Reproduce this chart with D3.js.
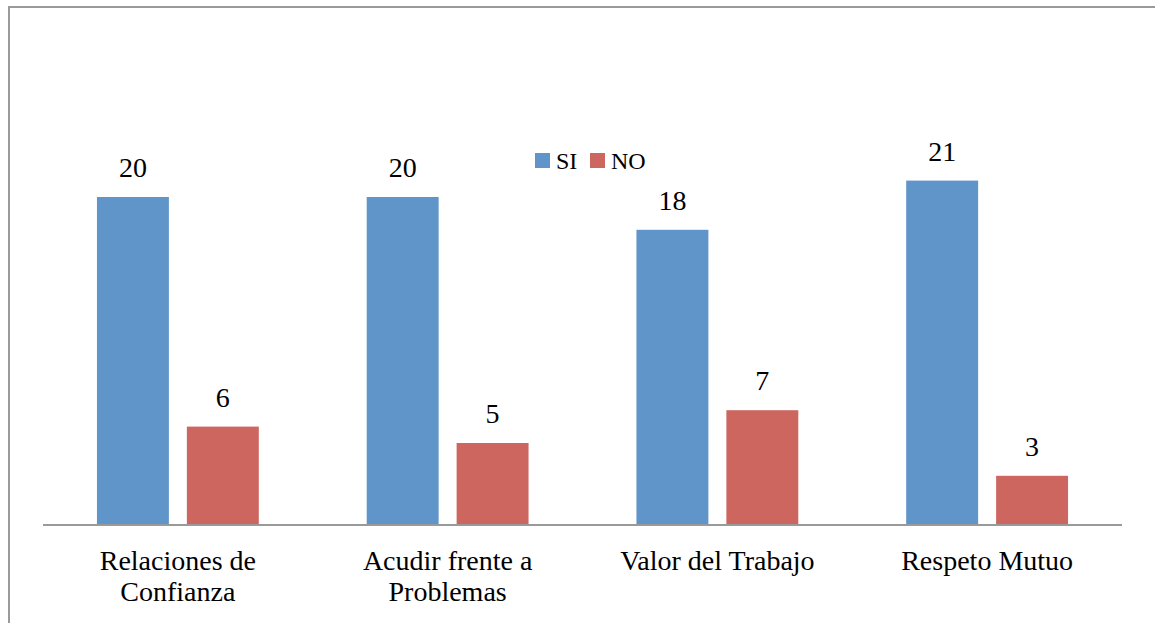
<!DOCTYPE html>
<html>
<head>
<meta charset="utf-8">
<script src="https://cdn.jsdelivr.net/npm/d3@7"></script>
<style>
  body { margin: 0; background: #fff; }
  svg text { font-family: "Liberation Serif", "DejaVu Serif", serif; fill: #000; }
</style>
</head>
<body>
<svg class="chart" width="1155" height="623"></svg>
<script>
let categories = [['Relaciones de', 'Confianza'], ['Acudir frente a', 'Problemas'], ['Valor del Trabajo'], ['Respeto Mutuo']];
let series = ['SI', 'NO'];
let siValues = [20, 20, 18, 21];
let noValues = [6, 5, 7, 3];
let colors = ['#5F95C9', '#CE6660'];

let margin = { top: 115, left: 43, right: 33, baseline: 525 };

let data = categories.map((c, i) => ({ name: c.join(' '), lines: c, values: [siValues[i], noValues[i]] }));

let svg = d3.select('.chart');

// frame
svg.append('path')
  .attr('d', 'M9,623 V7 H1155')
  .attr('fill', 'none')
  .attr('stroke', '#9a9a9a')
  .attr('stroke-width', 2);

let x = d3.scaleBand().domain(data.map(d => d.name)).range([margin.left, 1155 - margin.right]);
let xInner = d3.scaleBand().domain(series).range([0, x.bandwidth()]).paddingInner(0.2).paddingOuter(0.6);
let y = d3.scaleLinear().domain([0, 25]).range([margin.baseline, margin.top]);

let groups = svg.selectAll('.group')
  .data(data)
  .enter()
  .append('g')
  .attr('class', 'group')
  .attr('transform', d => 'translate(' + x(d.name) + ',0)');

let bars = groups.selectAll('.bar')
  .data(d => d.values.map((v, i) => ({ key: series[i], value: v, color: colors[i] })))
  .enter();

bars.append('rect')
  .attr('class', 'bar')
  .attr('x', d => xInner(d.key))
  .attr('y', d => y(d.value))
  .attr('width', xInner.bandwidth())
  .attr('height', d => y(0) - y(d.value))
  .attr('fill', d => d.color);

bars.append('text')
  .attr('x', d => xInner(d.key) + xInner.bandwidth() / 2)
  .attr('y', d => y(d.value) - 20)
  .attr('text-anchor', 'middle')
  .attr('font-size', 28)
  .text(d => d.value);

// x axis line
svg.append('line')
  .attr('x1', x.range()[0]).attr('x2', x.range()[1])
  .attr('y1', y(0)).attr('y2', y(0))
  .attr('stroke', '#9a9a9a')
  .attr('stroke-width', 2);

// category labels
let labels = svg.selectAll('.cat')
  .data(data)
  .enter()
  .append('text')
  .attr('class', 'cat')
  .attr('text-anchor', 'middle')
  .attr('font-size', 28)
  .attr('x', d => x(d.name) + x.bandwidth() / 2)
  .attr('y', 570);

labels.selectAll('tspan')
  .data(d => d.lines)
  .enter()
  .append('tspan')
  .attr('x', function () { return d3.select(this.parentNode).attr('x'); })
  .attr('dy', (d, i) => i === 0 ? 0 : 31)
  .text(d => d);

// legend
let legend = svg.append('g').attr('transform', 'translate(535,153)');
let legendX = [0, 55];
series.forEach((s, i) => {
  legend.append('rect')
    .attr('x', legendX[i]).attr('y', 0)
    .attr('width', 15).attr('height', 15)
    .attr('fill', colors[i]);
  legend.append('text')
    .attr('x', legendX[i] + 21).attr('y', 16)
    .attr('font-size', 24)
    .text(s);
});
</script>
</body>
</html>
